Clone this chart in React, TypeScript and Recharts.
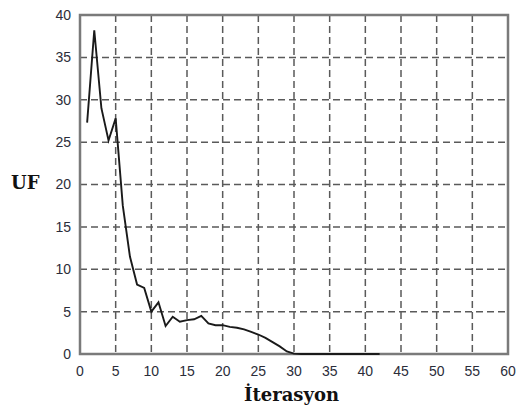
import React from 'react';
import {
  LineChart,
  Line,
  XAxis,
  YAxis,
  CartesianGrid,
  ReferenceArea,
} from 'recharts';

// Objective value (UF) per iteration
const iterations = [
  1, 2, 3, 4, 5, 6, 7, 8, 9, 10, 11, 12, 13, 14, 15, 16, 17, 18, 19, 20, 21,
  22, 23, 24, 25, 26, 27, 28, 29, 30, 31, 32, 33, 34, 35, 36, 37, 38, 39, 40,
  41, 42,
];
const ufValues = [
  27.3, 38.2, 29.0, 25.2, 27.8, 17.5, 11.5, 8.2, 7.8, 5.0, 6.1, 3.3, 4.4, 3.8,
  4.0, 4.1, 4.5, 3.6, 3.4, 3.4, 3.2, 3.1, 2.9, 2.6, 2.3, 1.9, 1.4, 0.9, 0.3,
  0.05, 0, 0, 0, 0, 0, 0, 0, 0, 0, 0, 0, 0,
];
const xTicks = [0, 5, 10, 15, 20, 25, 30, 35, 40, 45, 50, 55, 60];
const yTicks = [0, 5, 10, 15, 20, 25, 30, 35, 40];

const data = iterations.map((it, i) => ({ it, uf: ufValues[i] }));

const tickStyle = {
  fontFamily: '"Liberation Sans", Arial, sans-serif',
  fontSize: 14,
  fill: '#2b2d3a',
};

const titleStyle: React.CSSProperties = {
  position: 'absolute',
  fontFamily: '"DejaVu Serif", "Liberation Serif", serif',
  fontWeight: 'bold',
  fontSize: 18,
  color: '#111',
};

export default function App() {
  return (
    <div
      style={{
        position: 'absolute',
        left: 0,
        top: 0,
        width: 520,
        height: 412,
        background: '#fff',
      }}
    >
      <LineChart
        width={520}
        height={412}
        data={data}
        margin={{ top: 15, right: 12, bottom: 38, left: 50 }}
      >
        <CartesianGrid
          stroke="#5a5a5a"
          strokeWidth={1.5}
          strokeDasharray="7 4"
        />
        <XAxis
          dataKey="it"
          type="number"
          domain={[0, 60]}
          ticks={xTicks}
          height={20}
          tickLine={false}
          axisLine={false}
          tick={tickStyle}
          tickMargin={6}
        />
        <YAxis
          type="number"
          domain={[0, 40]}
          ticks={yTicks}
          width={30}
          tickLine={false}
          axisLine={false}
          tick={tickStyle}
          tickMargin={3}
        />
        <ReferenceArea
          x1={0}
          x2={60}
          y1={0}
          y2={40}
          fill="none"
          stroke="#7a7a7a"
          strokeWidth={2.5}
          ifOverflow="visible"
        />
        <Line
          type="linear"
          dataKey="uf"
          stroke="#1a1a1a"
          strokeWidth={1.9}
          dot={false}
          isAnimationActive={false}
        />
      </LineChart>
      <div style={{ ...titleStyle, left: 11, top: 172 }}>UF</div>
      <div style={{ ...titleStyle, left: 244, top: 384 }}>İterasyon</div>
    </div>
  );
}
